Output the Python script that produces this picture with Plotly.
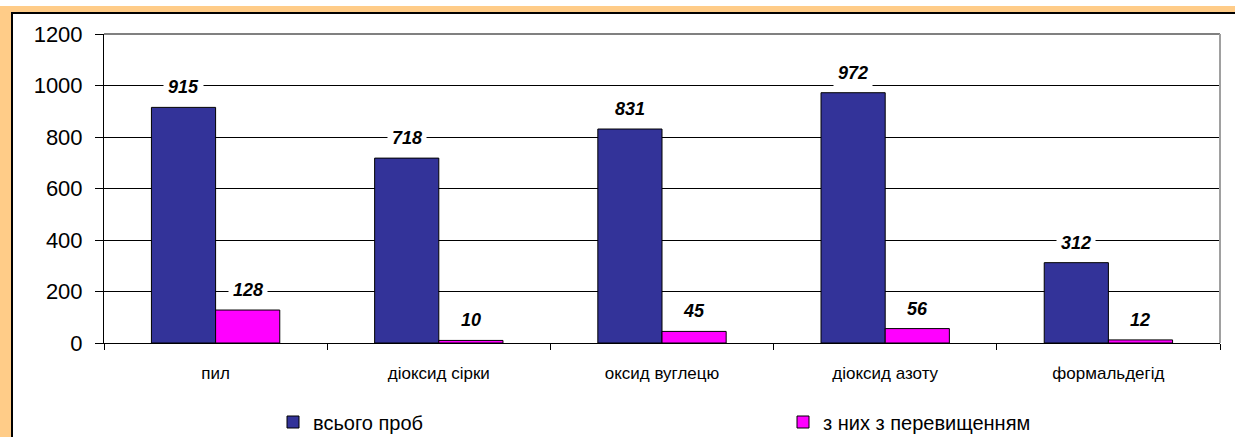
import plotly.graph_objects as go

categories = ["пил", "діоксид сірки", "оксид вуглецю", "діоксид азоту", "формальдегід"]
total_samples = [915, 718, 831, 972, 312]
exceeded = [128, 10, 45, 56, 12]
series_names = ["всього проб", "з них з перевищенням"]
y_ticks = [0, 200, 400, 600, 800, 1000, 1200]

NAVY = "#333399"
MAGENTA = "#FF00FF"
ORANGE = "#FFCC88"

fig = go.Figure()
fig.add_trace(go.Bar(x=categories, y=total_samples, name=series_names[0], legend="legend",
                     marker=dict(color=NAVY, line=dict(color="black", width=1))))
fig.add_trace(go.Bar(x=categories, y=exceeded, name=series_names[1], legend="legend2",
                     marker=dict(color=MAGENTA, line=dict(color="black", width=1))))

# value labels with white box over the gridlines
for vals, shift in [(total_samples, -32), (exceeded, 32)]:
    for c, v in zip(categories, vals):
        fig.add_annotation(x=c, y=v, text=f"<b><i>{v}</i></b>", showarrow=False,
                           xshift=shift, yshift=20, bgcolor="white", borderpad=4,
                           font=dict(family="Liberation Sans, Arial", size=18, color="black"))

# orange frame (top and left) + inner black line, thin white strip above it
fig.add_shape(type="rect", xref="paper", yref="paper", layer="below",
              x0=-0.2, x1=1.2, y0=1 + 28 / 309, y1=1.3,
              fillcolor="white", line=dict(width=0))
fig.add_shape(type="rect", xref="paper", yref="paper", layer="below",
              x0=-92 / 1116, x1=1.2, y0=-0.5, y1=1 + 21 / 309,
              fillcolor="white", line=dict(color="black", width=2))
# plot area border (top / right in gray)
fig.add_shape(type="line", xref="paper", yref="paper", x0=0, x1=1, y0=1, y1=1,
              line=dict(color="#808080", width=2))
fig.add_shape(type="line", xref="paper", yref="paper", x0=1, x1=1, y0=0, y1=1,
              line=dict(color="#A0A0A0", width=2))

leg = dict(orientation="h", yref="container", y=1 - 422 / 437, xanchor="left",
           yanchor="middle", font=dict(size=20), bgcolor="rgba(0,0,0,0)")
fig.update_layout(
    width=1235, height=437,
    margin=dict(l=104, r=15, t=34, b=94),
    paper_bgcolor=ORANGE, plot_bgcolor="white",
    barmode="group", bargap=0.425, bargroupgap=0,
    font=dict(family="Liberation Sans, Arial", color="black"),
    showlegend=True,
    legend=dict(leg, x=(273 - 104) / 1116),
    legend2=dict(leg, x=(783 - 104) / 1116),
    xaxis=dict(showline=True, linecolor="black", linewidth=1, ticks="outside",
               tickson="boundaries", ticklen=6, tickcolor="black", automargin=False,
               tickfont=dict(size=17), ticklabelstandoff=15, showgrid=False),
    yaxis=dict(range=[0, 1200], tickvals=y_ticks, showline=True, linecolor="black",
               linewidth=1, ticks="outside", ticklen=8, tickcolor="black", automargin=False,
               tickfont=dict(size=22), ticklabelstandoff=8, showgrid=True,
               gridcolor="black", gridwidth=1, zeroline=False),
)

fig.write_html("out.html", config={"displayModeBar": False},
               post_script="document.body.style.margin='0';")
